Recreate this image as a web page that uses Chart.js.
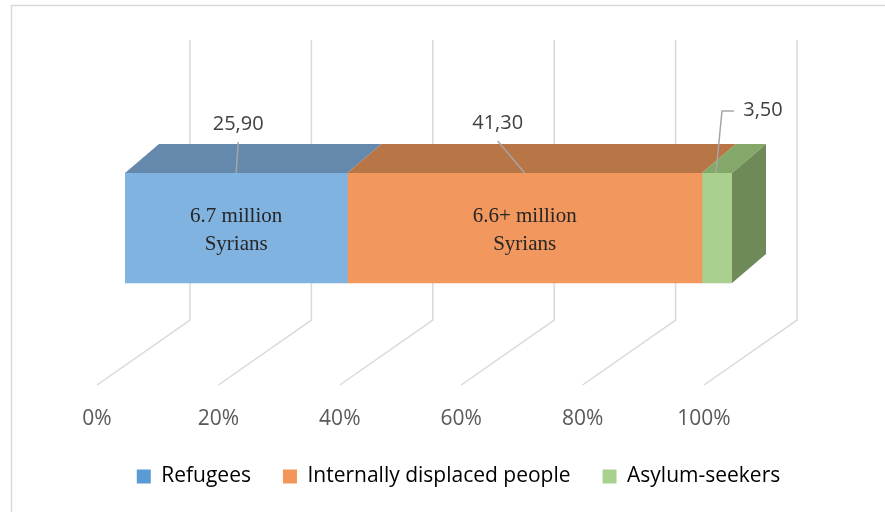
<!DOCTYPE html>
<html>
<head>
<meta charset="utf-8">
<script src="https://cdn.jsdelivr.net/npm/chart.js@4.4.1/dist/chart.umd.min.js"></script>
<style>
  html, body { margin: 0; padding: 0; background: #fff; }
  canvas { display: block; }
</style>
</head>
<body>
<canvas id="syriaChart" width="885" height="512"></canvas>
<script>
// Chart data
const categories = ['Syrians'];
const seriesNames = ['Refugees', 'Internally displaced people', 'Asylum-seekers'];
const seriesValues = [25.90, 41.30, 3.50];
const innerLabels = [['6.7 million', 'Syrians'], ['6.6+ million', 'Syrians'], []];
const tickLabels = ['0%', '20%', '40%', '60%', '80%', '100%'];

// Colours: front face, top face, legend swatch
const frontColors = ['#80B3E0', '#F2975D', '#A9D08E'];
const topColors = ['#6489AD', '#B87546', '#84A86A'];
const sideColor = '#6E8A58';
const legendColors = ['#5B9BD5', '#F2965A', '#A9D18E'];

// 3D geometry (pixels)
const DEPTH_X = 34, DEPTH_Y = 29;        // bar depth
const FLOOR_SHIFT = -28;                 // floor front edge vs bar front
const FLOOR_DX = 93, FLOOR_DY = 65;      // floor depth
const FLOOR_FRONT_Y = 385;
const GRID_TOP_Y = 40;

// label placement relative to each segment
const labelOffsets = [{ dx: 2, y: 124 }, { dx: -27, y: 123 }, { dx: 46, y: 110, elbow: true }];

const total = seriesValues.reduce((a, b) => a + b, 0);

const datasets = seriesNames.map((name, i) => ({
    label: name,
    data: [seriesValues[i] / total * 100],
    backgroundColor: frontColors[i],
    borderWidth: 0,
    barThickness: 110
}));

function fmt(v) {
    return v.toFixed(2).replace('.', ',');
}

// invisible axis used only to reserve space at a side
function spacerAxis(position, width) {
    return {
        type: 'category',
        position: position,
        grid: { display: false, drawTicks: false },
        border: { display: false },
        ticks: { display: false },
        afterFit(scale) { scale.width = width; }
    };
}

// Background, frame and back/floor gridlines
const backPlugin = {
    id: 'back',
    beforeDraw(chart) {
        const ctx = chart.ctx;
        ctx.save();
        ctx.fillStyle = '#fff';
        ctx.fillRect(0, 0, chart.width, chart.height);
        ctx.strokeStyle = '#d9d9d9';
        ctx.lineWidth = 1.5;
        ctx.beginPath();
        ctx.moveTo(11.5, chart.height);
        ctx.lineTo(11.5, 5.5);
        ctx.lineTo(chart.width, 5.5);
        ctx.stroke();
        ctx.restore();
    },
    beforeDatasetsDraw(chart) {
        const ctx = chart.ctx;
        const xs = chart.scales.x;
        ctx.save();
        ctx.strokeStyle = '#d9d9d9';
        ctx.lineWidth = 1.5;
        tickLabels.forEach((t, i) => {
            const px = xs.getPixelForValue(i * 20);
            const fx = px + FLOOR_SHIFT;
            ctx.beginPath();
            ctx.moveTo(fx, FLOOR_FRONT_Y);
            ctx.lineTo(fx + FLOOR_DX, FLOOR_FRONT_Y - FLOOR_DY);
            ctx.lineTo(fx + FLOOR_DX, GRID_TOP_Y);
            ctx.stroke();
        });
        ctx.restore();
    }
};

// 3D faces, inner text and value labels
const facesPlugin = {
    id: 'faces',
    afterDatasetsDraw(chart) {
        const ctx = chart.ctx;
        ctx.save();
        const n = chart.data.datasets.length;
        for (let i = 0; i < n; i++) {
            const el = chart.getDatasetMeta(i).data[0];
            const left = Math.min(el.base, el.x), right = Math.max(el.base, el.x);
            const top = el.y - el.height / 2, bottom = el.y + el.height / 2;
            ctx.fillStyle = topColors[i];
            ctx.beginPath();
            ctx.moveTo(left, top);
            ctx.lineTo(right, top);
            ctx.lineTo(right + DEPTH_X, top - DEPTH_Y);
            ctx.lineTo(left + DEPTH_X, top - DEPTH_Y);
            ctx.closePath();
            ctx.fill();
            if (i === n - 1) {
                ctx.fillStyle = sideColor;
                ctx.beginPath();
                ctx.moveTo(right, top);
                ctx.lineTo(right + DEPTH_X, top - DEPTH_Y);
                ctx.lineTo(right + DEPTH_X, bottom - DEPTH_Y);
                ctx.lineTo(right, bottom);
                ctx.closePath();
                ctx.fill();
            }

            // text inside the front face
            const cx = (left + right) / 2;
            ctx.fillStyle = '#262626';
            ctx.font = '21px "Liberation Serif"';
            ctx.textAlign = 'center';
            ctx.textBaseline = 'middle';
            innerLabels[i].forEach((line, k) => {
                ctx.fillText(line, cx, el.y - 12 + k * 28);
            });

            // value label with leader line
            const off = labelOffsets[i];
            const lx = cx + off.dx;
            ctx.strokeStyle = '#a6a6a6';
            ctx.lineWidth = 1.5;
            ctx.beginPath();
            if (off.elbow) {
                ctx.moveTo(lx - 29, off.y + 1);
                ctx.lineTo(lx - 41, off.y + 1);
                ctx.lineTo(cx - 1, top);
            } else {
                ctx.moveTo(lx, off.y + 18);
                ctx.lineTo(cx, top);
            }
            ctx.stroke();
            ctx.fillStyle = '#404040';
            ctx.font = '20px "Open Sans"';
            ctx.fillText(fmt(seriesValues[i]), lx, off.y);
        }
        ctx.restore();
    }
};

new Chart(document.getElementById('syriaChart'), {
    type: 'bar',
    data: { labels: categories, datasets: datasets },
    options: {
        indexAxis: 'y',
        responsive: false,
        animation: false,
        devicePixelRatio: 1,
        layout: { padding: { left: 32, right: 0, top: 56, bottom: 15 } },
        scales: {
            x: {
                type: 'linear',
                stacked: true,
                min: 0,
                max: 100,
                grid: { display: false, drawTicks: false },
                border: { display: false },
                ticks: {
                    stepSize: 20,
                    labelOffset: FLOOR_SHIFT,
                    padding: 6,
                    color: '#595959',
                    font: { family: '"Open Sans"', size: 21 },
                    callback: (v, i) => tickLabels[i]
                },
                afterFit(scale) { scale.height = 34; }
            },
            y: Object.assign(spacerAxis('left', 93), { stacked: true }),
            y2: spacerAxis('right', 153)
        },
        plugins: {
            legend: {
                position: 'bottom',
                labels: {
                    boxWidth: 14,
                    boxHeight: 14,
                    padding: 32,
                    color: '#595959',
                    font: { family: '"Open Sans"', size: 21 },
                    generateLabels: () => seriesNames.map((name, i) => ({
                        text: name,
                        fillStyle: legendColors[i],
                        strokeStyle: legendColors[i],
                        lineWidth: 0,
                        datasetIndex: i
                    }))
                }
            },
            tooltip: { enabled: false }
        }
    },
    plugins: [backPlugin, facesPlugin]
});
</script>
</body>
</html>
